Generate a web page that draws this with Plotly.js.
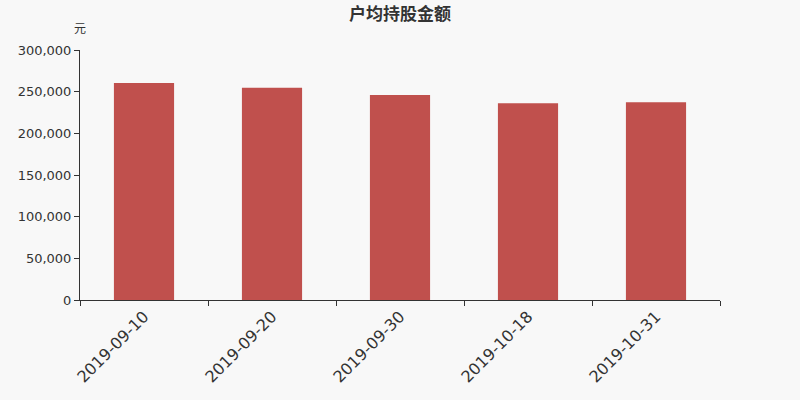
<!DOCTYPE html>
<html>
<head>
<meta charset="utf-8">
<script src="https://cdn.plot.ly/plotly-3.0.1.min.js"></script>
<style>
  html, body { margin: 0; padding: 0; background: #f8f8f8; }
  #graph { width: 800px; height: 400px; }
</style>
</head>
<body>
<div id="graph"></div>
<script>
// 户均持股金额 per report date
var dates = ["2019-09-10", "2019-09-20", "2019-09-30", "2019-10-18", "2019-10-31"];
var amounts = [260400, 254800, 245900, 236200, 237300];
var yTicks = [0, 50000, 100000, 150000, 200000, 250000, 300000];

var layout = {
    width: 800,
    height: 400,
    paper_bgcolor: "#f8f8f8",
    plot_bgcolor: "#f8f8f8",
    margin: { l: 80, r: 80, t: 50, b: 100 },
    showlegend: false,
    bargap: 0.53,
    font: { family: "DejaVu Sans, Noto Sans CJK SC, sans-serif", color: "#333" },
    title: {
        text: "<b>户均持股金额</b>",
        font: { size: 17, color: "#333", family: "Noto Sans CJK SC, sans-serif" },
        x: 0.5, xanchor: "center", y: 0.965, yanchor: "middle"
    },
    xaxis: {
        type: "category",
        tickson: "boundaries",
        ticks: "outside",
        ticklen: 5,
        tickcolor: "#333",
        showline: true,
        linecolor: "#333",
        showgrid: false,
        tickangle: -45,
        tickfont: { size: 16, color: "#333" }
    },
    yaxis: {
        range: [0, 300000],
        tickvals: yTicks,
        ticktext: yTicks.map(function (v) { return v.toLocaleString("en-US"); }),
        ticks: "outside",
        ticklen: 5,
        tickcolor: "#333",
        showline: true,
        linecolor: "#333",
        showgrid: false,
        zeroline: false,
        tickfont: { size: 13, color: "#333" }
    },
    annotations: [{
        text: "元",
        xref: "paper", yref: "paper",
        x: 0, y: 1.088,
        xanchor: "center", yanchor: "middle",
        showarrow: false,
        font: { size: 12, color: "#333", family: "Noto Sans CJK SC, sans-serif" }
    }]
};

Plotly.newPlot("graph", [{
    type: "bar",
    x: dates,
    y: amounts,
    marker: { color: "#c0504d", line: { width: 0 } },
    hoverinfo: "x+y"
}], layout, { displayModeBar: false, staticPlot: true });
</script>
</body>
</html>
